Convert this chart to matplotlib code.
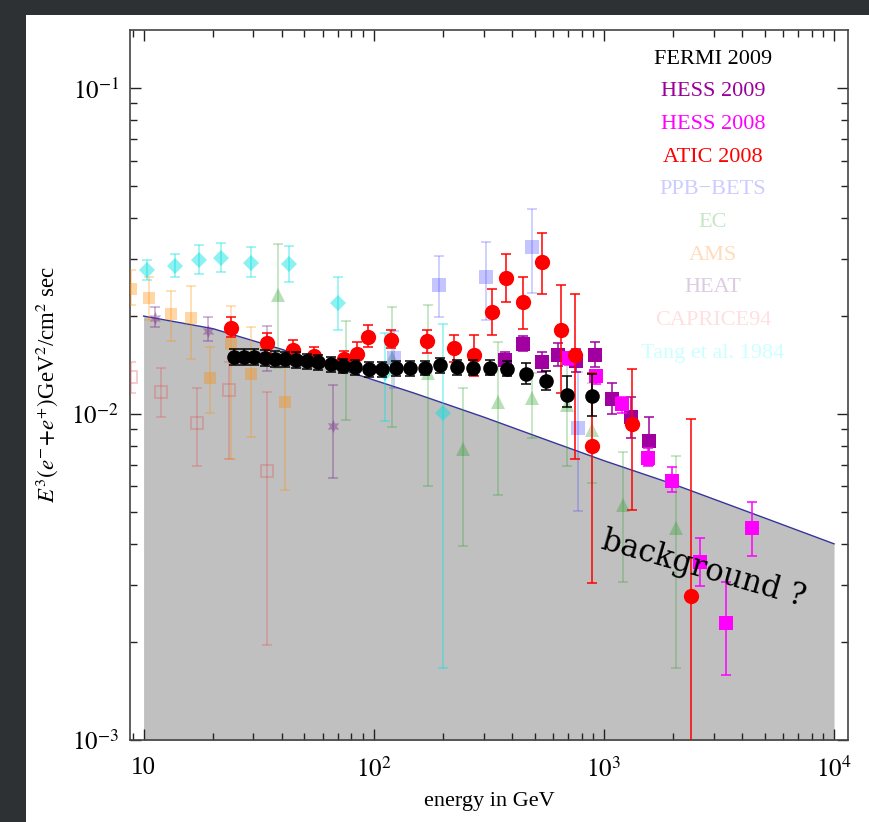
import numpy as np
import matplotlib
matplotlib.use('Agg')
import matplotlib.pyplot as plt
from matplotlib.ticker import LogLocator, FixedLocator, FixedFormatter, NullFormatter
from matplotlib.patches import Rectangle

plt.rcParams['font.family'] = ['Liberation Serif', 'DejaVu Serif']
plt.rcParams['mathtext.fontset'] = 'stix'

# ---------------- data ----------------
bg_E = [10, 20, 40, 80, 150, 300, 600, 1000, 2000, 5000, 10000]
bg_y = [0.0200, 0.0183, 0.0158, 0.0134, 0.0116, 0.0098, 0.0082, 0.0072, 0.0061, 0.0048, 0.0040]

fermi_E = [24.6, 27.2, 30.2, 33.6, 37.1, 41.1, 45.8, 51.3, 57.5, 64.9, 73.6, 83.3, 95.1,
           108.7, 124.7, 144.2, 167.8, 195, 229, 270, 319, 380, 458, 560, 692, 885]
fermi_y = [0.01500, 0.01500, 0.01498, 0.01491, 0.01481, 0.01474, 0.01469, 0.01455, 0.01442,
           0.01427, 0.01408, 0.01395, 0.01375, 0.01375, 0.01382, 0.01382, 0.01388, 0.01412,
           0.01395, 0.01388, 0.01388, 0.01378, 0.01325, 0.01263, 0.01141, 0.01136]
fermi_hi = [0.0158, 0.0158, 0.0158, 0.0157, 0.0156, 0.0155, 0.0155, 0.0153, 0.0152, 0.0150,
            0.0148, 0.0147, 0.0145, 0.0145, 0.0146, 0.0146, 0.0146, 0.0149, 0.0147, 0.0147,
            0.0147, 0.0146, 0.0144, 0.0136, 0.0131, 0.0133]
fermi_lo = [0.0142, 0.0142, 0.0142, 0.0141, 0.0140, 0.0140, 0.0139, 0.0138, 0.0137, 0.0135,
            0.0134, 0.0132, 0.0130, 0.0130, 0.0131, 0.0131, 0.0132, 0.0134, 0.0132, 0.0132,
            0.0132, 0.0131, 0.0124, 0.0119, 0.0105, 0.0099]

atic_E = [24.0, 34.4, 44.8, 54.8, 74.1, 84.6, 94.6, 119.4, 170.5, 222.8, 272.3, 325, 374,
          446, 541, 648, 748, 889, 1327, 2389]
atic_y = [0.01843, 0.01654, 0.01573, 0.01509, 0.01474, 0.01533, 0.01719, 0.01685, 0.01677,
          0.01593, 0.01519, 0.02065, 0.02626, 0.02215, 0.02936, 0.01814, 0.01516, 0.00801,
          0.00936, 0.00277]
atic_hi = [0.0199, 0.0177, 0.0169, 0.0161, 0.0156, 0.0167, 0.0188, 0.0181, 0.0181, 0.0175,
           0.0175, 0.0242, 0.0310, 0.0263, 0.0359, 0.0249, 0.0234, 0.0134, 0.0138, 0.00963]
atic_lo = [0.0172, 0.0154, 0.0148, 0.0143, 0.0139, 0.0142, 0.0161, 0.0160, 0.0154, 0.0145,
           0.0131, 0.0175, 0.0221, 0.0183, 0.0233, 0.0116, 0.0073, 0.00303, 0.00509, 0.0005]

hess09_E = [371.5, 446, 536, 633, 755, 914, 1087, 1310, 1574]
hess09_y = [0.01463, 0.01646, 0.01449, 0.01519, 0.01456, 0.01519, 0.01117, 0.00981, 0.00826]
hess09_hi = [0.0155, 0.0174, 0.0155, 0.0165, 0.0158, 0.0166, 0.0125, 0.0113, 0.0098]
hess09_lo = [0.0138, 0.0156, 0.0135, 0.0141, 0.0135, 0.0140, 0.0100, 0.00846, 0.0070]

hess08_E = [702, 923, 1197, 1548, 1982, 2614, 3380, 4385]
hess08_y = [0.01486, 0.01312, 0.01071, 0.00736, 0.00625, 0.00353, 0.00229, 0.00447]
hess08_hi = [0.0155, 0.0137, 0.0113, 0.0079, 0.00689, 0.00417, 0.00306, 0.00536]
hess08_lo = [0.0142, 0.0124, 0.0101, 0.00692, 0.00575, 0.00297, 0.00158, 0.00368]

ppb_E = [122, 192, 307, 485, 771]
ppb_y = [0.01489, 0.02493, 0.02638, 0.03265, 0.00907]
ppb_hi = [0.0180, 0.0305, 0.0337, 0.0426, 0.0135]
ppb_lo = [0.01205, 0.0199, 0.0194, 0.0235, 0.00503]

ec_E = [38.4, 76.0, 120, 172, 244, 345, 486, 689, 889, 1213, 2056]
ec_y = [0.02315, 0.01456, 0.01490, 0.01340, 0.00783, 0.01090, 0.01120, 0.01066, 0.00897,
        0.00528, 0.00447]
ec_hi = [0.0334, 0.0193, 0.0213, 0.0216, 0.0120, 0.0166, 0.0134, 0.0144, 0.0125, 0.00766, 0.00746]
ec_lo = [0.0139, 0.00958, 0.00914, 0.00603, 0.00395, 0.00564, 0.00846, 0.00695, 0.00615,
         0.00305, 0.00166]

ams_E = [8.84, 10.6, 13.1, 16.0, 19.5, 24.0, 29.4, 41.0]
ams_y = [0.02429, 0.02280, 0.02027, 0.01970, 0.01293, 0.01639, 0.01330, 0.01091]
ams_hi = [0.0276, 0.0263, 0.0239, 0.0248, 0.0161, 0.0214, 0.0185, 0.0146]
ams_lo = [0.0216, 0.0194, 0.0168, 0.0148, 0.0101, 0.00730, 0.00850, 0.00587]

heat_E = [11.2, 19.0, 34.4, 66.4]
heat_y = [0.01970, 0.01800, 0.01677, 0.00922]
heat_hi = [0.0213, 0.0199, 0.0186, 0.0123]
heat_lo = [0.0185, 0.0168, 0.0136, 0.00637]

caprice_E = [8.84, 11.9, 17.1, 23.6, 34.4]
caprice_y = [0.01299, 0.01171, 0.00938, 0.01182, 0.00671]
caprice_hi = [0.0145, 0.0139, 0.0120, 0.0145, 0.0117]
caprice_lo = [0.0116, 0.00981, 0.00695, 0.00730, 0.00196]

tang_E = [10.3, 13.7, 17.4, 21.8, 29.4, 42.7, 69.9, 112, 200]
tang_y = [0.02768, 0.02853, 0.02972, 0.03014, 0.02909, 0.02888, 0.02191, 0.01337, 0.01005]
tang_hi = [0.0297, 0.0311, 0.0330, 0.0336, 0.0325, 0.0329, 0.0263, 0.0177, 0.0189]
tang_lo = [0.0258, 0.0263, 0.0270, 0.0274, 0.0263, 0.0255, 0.0181, 0.00956, 0.00166]

legend_labels = ['FERMI 2009', 'HESS 2009', 'HESS 2008', 'ATIC 2008', 'PPB\u2212BETS', 'EC',
                 'AMS', 'HEAT', 'CAPRICE94', 'Tang et al. 1984']
legend_colors = ['#000000', '#9a009a', '#ff00ff', '#ff0000', '#ccccff', '#c6e6c6',
                 '#ffdcbc', '#dccbe2', '#ffe0e0', '#ccffff']

xtick_vals = [10, 100, 1000, 10000]
xtick_labels = ['10', '$10^2$', '$10^3$', '$10^4$']
ytick_vals = [1e-3, 1e-2, 1e-1]
ytick_labels = ['$10^{-3}$', '$10^{-2}$', '$10^{-1}$']

# ---------------- figure ----------------
W, H = 869, 822
fig = plt.figure(figsize=(W / 100, H / 100), dpi=100, facecolor='#2e3134')
fig.patches.append(Rectangle((26 / W, 0), 1, 1 - 15 / H, transform=fig.transFigure,
                             facecolor='white', edgecolor='none', zorder=-5))
ax = fig.add_axes([130 / W, 1 - 740 / H, 718 / W, 710 / H])
ax.set_facecolor('white')
ax.set_xscale('log')
ax.set_yscale('log')
ax.set_xlim(8.73, 11500)
ax.set_ylim(1e-3, 0.151)

ax.fill_between(bg_E, bg_y, 1e-4, color='#c0c0c0', lw=0, zorder=1)
ax.plot(bg_E, bg_y, color='#34349a', lw=1, zorder=2)


def eb(E, y, lo, hi, color, marker, ms, alpha, z, open_marker=False, mew=0):
    y = np.asarray(y)
    yerr = [y - np.asarray(lo), np.asarray(hi) - y]
    ax.errorbar(E, y, yerr=yerr, fmt='none', ecolor=color, elinewidth=1.1, capsize=3.5,
                capthick=1.1, alpha=alpha, zorder=z)
    ax.plot(E, y, linestyle='none', marker=marker, ms=ms, color=color,
            mfc='none' if open_marker else color, mec=color,
            mew=1.2 if open_marker else mew, alpha=alpha, zorder=z)


eb(caprice_E, caprice_y, caprice_lo, caprice_hi, '#e05050', 's', 8.5, 0.35, 3, open_marker=True)
eb(heat_E, heat_y, heat_lo, heat_hi, '#7a2a8c', (6, 1, 0), 9.5, 0.42, 3)
eb(ams_E, ams_y, ams_lo, ams_hi, '#ff8c00', 's', 8, 0.35, 3)
eb(ec_E, ec_y, ec_lo, ec_hi, '#28a028', '^', 9.5, 0.33, 3)
eb(ppb_E, ppb_y, ppb_lo, ppb_hi, '#3c3cff', 's', 9.5, 0.3, 3)
eb(tang_E, tang_y, tang_lo, tang_hi, '#00e0e0', 'D', 8.5, 0.45, 3)
eb(hess09_E, hess09_y, hess09_lo, hess09_hi, '#a000a0', 's', 9.5, 1.0, 4)
eb(hess08_E, hess08_y, hess08_lo, hess08_hi, '#ff00ff', 's', 9.5, 1.0, 5)
eb(atic_E, atic_y, atic_lo, atic_hi, '#ff0000', 'o', 11, 1.0, 6)
eb(fermi_E, fermi_y, fermi_lo, fermi_hi, '#000000', 'o', 10.5, 1.0, 7)

# legend as coloured text
for i, (lab, col) in enumerate(zip(legend_labels, legend_colors)):
    ax.text(0.812, (740 - 59 - 32.7 * i) / 710, lab, color=col, fontsize=16,
            ha='center', va='center', transform=ax.transAxes, zorder=8)

ax.text(2700, 0.00335, 'background ?', rotation=-16, fontsize=22, family='DejaVu Serif',
        ha='center', va='center', rotation_mode='anchor', zorder=9, color='black')

# axes styling
ax.xaxis.set_major_locator(FixedLocator(xtick_vals))
ax.xaxis.set_major_formatter(FixedFormatter(xtick_labels))
ax.xaxis.set_minor_locator(LogLocator(base=10, subs=np.arange(2, 10), numticks=20))
ax.xaxis.set_minor_formatter(NullFormatter())
ax.yaxis.set_major_locator(FixedLocator(ytick_vals))
ax.yaxis.set_major_formatter(FixedFormatter(ytick_labels))
ax.yaxis.set_minor_locator(LogLocator(base=10, subs=np.arange(2, 10), numticks=20))
ax.yaxis.set_minor_formatter(NullFormatter())
ax.tick_params(which='both', direction='in', top=True, right=True, color='#222222', width=1)
ax.tick_params(which='major', length=8, labelsize=18, pad=8)
ax.tick_params(axis='x', which='major', pad=12)
ax.tick_params(which='minor', length=5)
for s in ax.spines.values():
    s.set_color('#444444')
    s.set_linewidth(1.2)

ax.set_xlabel('energy in GeV', fontsize=16, labelpad=7)
ax.set_ylabel('$E^3(e^{-}\\!+\\!e^{+})$GeV$^2$/cm$^2$ sec', fontsize=16.5, labelpad=8)

fig.savefig('out.png', dpi=100, facecolor=fig.get_facecolor())
